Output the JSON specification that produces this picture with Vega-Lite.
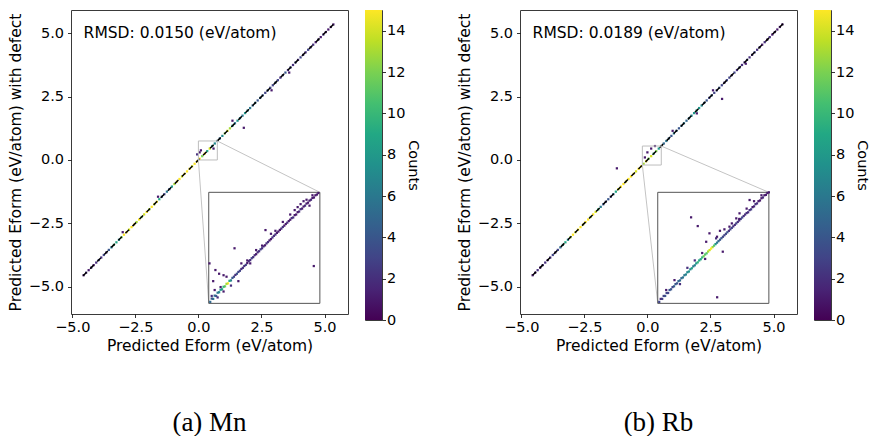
{
"$schema": "https://vega.github.io/schema/vega-lite/v6.json",
"padding": {"left": 7, "top": 9, "right": 0, "bottom": 0},
"config": {
  "font": "DejaVu Sans",
  "view": {"stroke": "#3a3a3a", "strokeWidth": 1},
  "axis": {"grid": false, "domain": false, "tickColor": "#000", "tickSize": 3.5, "tickWidth": 0.8, "labelColor": "#000", "labelFontSize": 14.5, "labelFont": "DejaVu Sans", "titleFont": "DejaVu Sans", "titleFontSize": 15.5, "titleFontWeight": "normal", "titleColor": "#000", "labelFlush": false, "labelOverlap": false}
},
"datasets": {
  "ma": [
{"x":-4.55,"y":-4.55,"c":1},{"x":-4.45,"y":-4.45,"c":2},{"x":-4.35,"y":-4.35,"c":1},{"x":-4.25,"y":-4.25,"c":2},{"x":-4.15,"y":-4.15,"c":1},{"x":-4.05,"y":-4.05,"c":2},{"x":-3.95,"y":-3.95,"c":3},{"x":-3.85,"y":-3.85,"c":2},{"x":-3.75,"y":-3.75,"c":3},{"x":-3.65,"y":-3.65,"c":2},
{"x":-3.55,"y":-3.55,"c":4},{"x":-3.45,"y":-3.45,"c":6},{"x":-3.35,"y":-3.35,"c":10},{"x":-3.25,"y":-3.25,"c":9},{"x":-3.15,"y":-3.15,"c":7},{"x":-3.05,"y":-3.05,"c":12},{"x":-2.95,"y":-2.95,"c":15},{"x":-2.85,"y":-2.85,"c":15},{"x":-2.75,"y":-2.75,"c":14},{"x":-2.65,"y":-2.65,"c":15},
{"x":-2.55,"y":-2.55,"c":15},{"x":-2.45,"y":-2.45,"c":13},{"x":-2.35,"y":-2.35,"c":15},{"x":-2.25,"y":-2.25,"c":12},{"x":-2.15,"y":-2.15,"c":14},{"x":-2.05,"y":-2.05,"c":15},{"x":-1.95,"y":-1.95,"c":13},{"x":-1.85,"y":-1.85,"c":15},{"x":-1.75,"y":-1.75,"c":14},{"x":-1.65,"y":-1.65,"c":15},
{"x":-1.55,"y":-1.55,"c":9},{"x":-1.45,"y":-1.45,"c":4},{"x":-1.35,"y":-1.35,"c":3},{"x":-1.25,"y":-1.25,"c":6},{"x":-1.15,"y":-1.15,"c":4},{"x":-1.05,"y":-1.05,"c":8},{"x":-0.95,"y":-0.95,"c":13},{"x":-0.85,"y":-0.85,"c":15},{"x":-0.75,"y":-0.75,"c":15},{"x":-0.65,"y":-0.65,"c":14},
{"x":-0.55,"y":-0.55,"c":15},{"x":-0.45,"y":-0.45,"c":15},{"x":-0.35,"y":-0.35,"c":15},{"x":-0.25,"y":-0.25,"c":14},{"x":-0.15,"y":-0.15,"c":15},{"x":-0.05,"y":-0.05,"c":15},{"x":0.05,"y":0.05,"c":15},{"x":0.15,"y":0.15,"c":12},{"x":0.25,"y":0.25,"c":15},{"x":0.35,"y":0.35,"c":9},
{"x":0.45,"y":0.45,"c":14},{"x":0.55,"y":0.55,"c":8},{"x":0.65,"y":0.65,"c":7},{"x":0.75,"y":0.75,"c":6},{"x":0.85,"y":0.85,"c":5},{"x":0.95,"y":0.95,"c":7},{"x":1.05,"y":1.05,"c":12},{"x":1.15,"y":1.15,"c":14},{"x":1.25,"y":1.25,"c":13},{"x":1.35,"y":1.35,"c":9},
{"x":1.45,"y":1.45,"c":6},{"x":1.55,"y":1.55,"c":8},{"x":1.65,"y":1.65,"c":7},{"x":1.75,"y":1.75,"c":6},{"x":1.85,"y":1.85,"c":8},{"x":1.95,"y":1.95,"c":7},{"x":2.05,"y":2.05,"c":6},{"x":2.15,"y":2.15,"c":5},{"x":2.25,"y":2.25,"c":6},{"x":2.35,"y":2.35,"c":4},
{"x":2.45,"y":2.45,"c":5},{"x":2.55,"y":2.55,"c":4},{"x":2.65,"y":2.65,"c":3},{"x":2.75,"y":2.75,"c":4},{"x":2.85,"y":2.85,"c":3},{"x":2.95,"y":2.95,"c":3},{"x":3.05,"y":3.05,"c":4},{"x":3.15,"y":3.15,"c":3},{"x":3.25,"y":3.25,"c":2},{"x":3.35,"y":3.35,"c":3},
{"x":3.45,"y":3.45,"c":4},{"x":3.55,"y":3.55,"c":2},{"x":3.65,"y":3.65,"c":3},{"x":3.75,"y":3.75,"c":2},{"x":3.85,"y":3.85,"c":3},{"x":3.95,"y":3.95,"c":2},{"x":4.05,"y":4.05,"c":3},{"x":4.15,"y":4.15,"c":2},{"x":4.25,"y":4.25,"c":2},{"x":4.35,"y":4.35,"c":3},
{"x":4.45,"y":4.45,"c":2},{"x":4.55,"y":4.55,"c":2},{"x":4.65,"y":4.65,"c":1},{"x":4.75,"y":4.75,"c":2},{"x":4.85,"y":4.85,"c":1},{"x":4.95,"y":4.95,"c":2},{"x":5.05,"y":5.05,"c":1},{"x":5.15,"y":5.15,"c":1},{"x":5.25,"y":5.25,"c":1},{"x":5.35,"y":5.35,"c":1},
{"x":0.05,"y":0.3,"c":1},{"x":0.1,"y":0.38,"c":1},{"x":-0.05,"y":0.22,"c":2},{"x":1.8,"y":1.27,"c":1},{"x":1.35,"y":1.55,"c":1},{"x":-1.6,"y":-1.45,"c":1},{"x":2.9,"y":2.75,"c":1},{"x":3.6,"y":3.45,"c":1},{"x":0.6,"y":0.45,"c":1},{"x":-3.0,"y":-2.85,"c":1}
  ],
  "mb": [
{"x":-4.55,"y":-4.55,"c":1},{"x":-4.45,"y":-4.45,"c":1},{"x":-4.35,"y":-4.35,"c":2},{"x":-4.25,"y":-4.25,"c":1},{"x":-4.15,"y":-4.15,"c":2},{"x":-4.05,"y":-4.05,"c":2},{"x":-3.95,"y":-3.95,"c":1},{"x":-3.85,"y":-3.85,"c":2},{"x":-3.75,"y":-3.75,"c":3},{"x":-3.65,"y":-3.65,"c":2},
{"x":-3.55,"y":-3.55,"c":3},{"x":-3.45,"y":-3.45,"c":5},{"x":-3.35,"y":-3.35,"c":8},{"x":-3.25,"y":-3.25,"c":9},{"x":-3.15,"y":-3.15,"c":7},{"x":-3.05,"y":-3.05,"c":13},{"x":-2.95,"y":-2.95,"c":15},{"x":-2.85,"y":-2.85,"c":14},{"x":-2.75,"y":-2.75,"c":15},{"x":-2.65,"y":-2.65,"c":15},
{"x":-2.55,"y":-2.55,"c":14},{"x":-2.45,"y":-2.45,"c":15},{"x":-2.35,"y":-2.35,"c":15},{"x":-2.25,"y":-2.25,"c":13},{"x":-2.15,"y":-2.15,"c":15},{"x":-2.05,"y":-2.05,"c":14},{"x":-1.95,"y":-1.95,"c":10},{"x":-1.85,"y":-1.85,"c":6},{"x":-1.75,"y":-1.75,"c":4},{"x":-1.65,"y":-1.65,"c":3},
{"x":-1.55,"y":-1.55,"c":4},{"x":-1.45,"y":-1.45,"c":3},{"x":-1.35,"y":-1.35,"c":5},{"x":-1.25,"y":-1.25,"c":9},{"x":-1.15,"y":-1.15,"c":14},{"x":-1.05,"y":-1.05,"c":15},{"x":-0.95,"y":-0.95,"c":15},{"x":-0.85,"y":-0.85,"c":14},{"x":-0.75,"y":-0.75,"c":15},{"x":-0.65,"y":-0.65,"c":15},
{"x":-0.55,"y":-0.55,"c":15},{"x":-0.45,"y":-0.45,"c":14},{"x":-0.35,"y":-0.35,"c":15},{"x":-0.25,"y":-0.25,"c":15},{"x":-0.15,"y":-0.15,"c":13},{"x":-0.05,"y":-0.05,"c":15},{"x":0.05,"y":0.05,"c":12},{"x":0.15,"y":0.15,"c":14},{"x":0.25,"y":0.25,"c":10},{"x":0.35,"y":0.35,"c":12},
{"x":0.45,"y":0.45,"c":8},{"x":0.55,"y":0.55,"c":6},{"x":0.65,"y":0.65,"c":5},{"x":0.75,"y":0.75,"c":6},{"x":0.85,"y":0.85,"c":5},{"x":0.95,"y":0.95,"c":4},{"x":1.05,"y":1.05,"c":6},{"x":1.15,"y":1.15,"c":5},{"x":1.25,"y":1.25,"c":4},{"x":1.35,"y":1.35,"c":5},
{"x":1.45,"y":1.45,"c":6},{"x":1.55,"y":1.55,"c":5},{"x":1.65,"y":1.65,"c":6},{"x":1.75,"y":1.75,"c":7},{"x":1.85,"y":1.85,"c":8},{"x":1.95,"y":1.95,"c":9},{"x":2.05,"y":2.05,"c":8},{"x":2.15,"y":2.15,"c":7},{"x":2.25,"y":2.25,"c":5},{"x":2.35,"y":2.35,"c":4},
{"x":2.45,"y":2.45,"c":3},{"x":2.55,"y":2.55,"c":4},{"x":2.65,"y":2.65,"c":3},{"x":2.75,"y":2.75,"c":3},{"x":2.85,"y":2.85,"c":4},{"x":2.95,"y":2.95,"c":3},{"x":3.05,"y":3.05,"c":2},{"x":3.15,"y":3.15,"c":3},{"x":3.25,"y":3.25,"c":3},{"x":3.35,"y":3.35,"c":2},
{"x":3.45,"y":3.45,"c":3},{"x":3.55,"y":3.55,"c":2},{"x":3.65,"y":3.65,"c":3},{"x":3.75,"y":3.75,"c":2},{"x":3.85,"y":3.85,"c":2},{"x":3.95,"y":3.95,"c":3},{"x":4.05,"y":4.05,"c":2},{"x":4.15,"y":4.15,"c":2},{"x":4.25,"y":4.25,"c":3},{"x":4.35,"y":4.35,"c":2},
{"x":4.45,"y":4.45,"c":2},{"x":4.55,"y":4.55,"c":1},{"x":4.65,"y":4.65,"c":2},{"x":4.75,"y":4.75,"c":1},{"x":4.85,"y":4.85,"c":2},{"x":4.95,"y":4.95,"c":1},{"x":5.05,"y":5.05,"c":1},{"x":5.15,"y":5.15,"c":1},{"x":5.25,"y":5.25,"c":1},{"x":5.35,"y":5.35,"c":1},
{"x":-1.21,"y":-0.33,"c":1},{"x":2.96,"y":2.41,"c":1},{"x":1.96,"y":1.84,"c":1},{"x":0.0,"y":0.3,"c":1},{"x":0.15,"y":0.45,"c":1},{"x":-0.1,"y":0.1,"c":1},{"x":0.3,"y":0.55,"c":1},{"x":2.6,"y":2.75,"c":1},{"x":1.0,"y":1.15,"c":1},{"x":3.9,"y":3.8,"c":1}
  ],
  "ia": [
{"u":0.01,"v":0.01,"c":5},{"u":0.03,"v":0.03,"c":6},{"u":0.05,"v":0.05,"c":4},{"u":0.07,"v":0.075,"c":7},{"u":0.09,"v":0.095,"c":9},{"u":0.11,"v":0.115,"c":12},{"u":0.13,"v":0.135,"c":15},{"u":0.15,"v":0.155,"c":6},{"u":0.17,"v":0.18,"c":3},{"u":0.19,"v":0.2,"c":4},
{"u":0.21,"v":0.22,"c":3},{"u":0.23,"v":0.24,"c":2},{"u":0.25,"v":0.26,"c":3},{"u":0.27,"v":0.285,"c":2},{"u":0.29,"v":0.305,"c":3},{"u":0.31,"v":0.325,"c":2},{"u":0.33,"v":0.345,"c":2},{"u":0.35,"v":0.365,"c":3},{"u":0.37,"v":0.385,"c":2},{"u":0.39,"v":0.405,"c":2},
{"u":0.41,"v":0.425,"c":1},{"u":0.43,"v":0.445,"c":2},{"u":0.45,"v":0.465,"c":2},{"u":0.47,"v":0.485,"c":1},{"u":0.49,"v":0.505,"c":2},{"u":0.51,"v":0.525,"c":1},{"u":0.53,"v":0.545,"c":2},{"u":0.55,"v":0.565,"c":1},{"u":0.57,"v":0.58,"c":2},{"u":0.59,"v":0.6,"c":1},
{"u":0.61,"v":0.62,"c":2},{"u":0.63,"v":0.64,"c":1},{"u":0.65,"v":0.66,"c":2},{"u":0.67,"v":0.68,"c":1},{"u":0.69,"v":0.7,"c":2},{"u":0.71,"v":0.715,"c":1},{"u":0.73,"v":0.735,"c":1},
{"u":0.02,"v":0.032,"c":4},{"u":0.04,"v":0.052,"c":5},{"u":0.06,"v":0.072,"c":6},{"u":0.08,"v":0.092,"c":8},{"u":0.1,"v":0.112,"c":10},{"u":0.12,"v":0.132,"c":13},{"u":0.14,"v":0.152,"c":9},{"u":0.16,"v":0.172,"c":4},{"u":0.18,"v":0.192,"c":2},{"u":0.2,"v":0.212,"c":3},
{"u":0.22,"v":0.232,"c":2},{"u":0.24,"v":0.252,"c":2},{"u":0.26,"v":0.272,"c":1},{"u":0.28,"v":0.292,"c":2},{"u":0.3,"v":0.312,"c":2},{"u":0.32,"v":0.332,"c":1},{"u":0.34,"v":0.352,"c":2},{"u":0.36,"v":0.372,"c":2},{"u":0.38,"v":0.392,"c":1},{"u":0.4,"v":0.414,"c":2},
{"u":0.42,"v":0.434,"c":1},{"u":0.44,"v":0.456,"c":2},{"u":0.46,"v":0.476,"c":1},{"u":0.48,"v":0.496,"c":1},{"u":0.5,"v":0.516,"c":2},{"u":0.52,"v":0.536,"c":1},{"u":0.54,"v":0.556,"c":1},{"u":0.56,"v":0.576,"c":2},{"u":0.58,"v":0.596,"c":1},{"u":0.6,"v":0.616,"c":1},
{"u":0.62,"v":0.636,"c":2},{"u":0.64,"v":0.654,"c":1},{"u":0.66,"v":0.674,"c":1},{"u":0.68,"v":0.694,"c":1},{"u":0.7,"v":0.712,"c":1},{"u":0.72,"v":0.73,"c":1},{"u":0.74,"v":0.745,"c":1},
{"u":0.02,"v":0.05,"c":2},{"u":0.04,"v":0.09,"c":1},{"u":0.06,"v":0.04,"c":2},{"u":0.08,"v":0.11,"c":1},{"u":0.1,"v":0.08,"c":1},{"u":0.045,"v":0.225,"c":1},{"u":0.005,"v":0.27,"c":1},{"u":0.03,"v":0.15,"c":1},{"u":0.07,"v":0.2,"c":1},{"u":0.12,"v":0.18,"c":1},
{"u":0.174,"v":0.372,"c":1},{"u":0.383,"v":0.495,"c":1},{"u":0.709,"v":0.252,"c":1},{"u":0.2,"v":0.15,"c":1},{"u":0.15,"v":0.12,"c":2},{"u":0.26,"v":0.29,"c":1},{"u":0.32,"v":0.36,"c":1},{"u":0.45,"v":0.49,"c":1},{"u":0.5,"v":0.55,"c":1},{"u":0.55,"v":0.6,"c":1},
{"u":0.58,"v":0.63,"c":1},{"u":0.62,"v":0.67,"c":1},{"u":0.66,"v":0.7,"c":1},{"u":0.7,"v":0.73,"c":1},{"u":0.64,"v":0.69,"c":1},{"u":0.42,"v":0.47,"c":1},{"u":0.36,"v":0.39,"c":1},{"u":0.28,"v":0.27,"c":1},{"u":0.6,"v":0.65,"c":1},{"u":0.68,"v":0.66,"c":1},
{"u":0.1,"v":0.19,"c":1},{"u":0.22,"v":0.27,"c":1}
  ],
  "ib": [
{"u":-0.19,"v":-0.19,"c":3},{"u":-0.17,"v":-0.17,"c":3},{"u":-0.15,"v":-0.15,"c":4},{"u":-0.13,"v":-0.13,"c":3},{"u":-0.11,"v":-0.105,"c":4},{"u":-0.09,"v":-0.085,"c":5},{"u":-0.07,"v":-0.065,"c":4},{"u":-0.05,"v":-0.045,"c":5},{"u":-0.03,"v":-0.025,"c":6},{"u":-0.01,"v":-0.005,"c":7},
{"u":0.01,"v":0.015,"c":8},{"u":0.03,"v":0.037,"c":9},{"u":0.05,"v":0.057,"c":7},{"u":0.07,"v":0.077,"c":10},{"u":0.09,"v":0.098,"c":9},{"u":0.11,"v":0.118,"c":12},{"u":0.13,"v":0.138,"c":11},{"u":0.15,"v":0.16,"c":14},{"u":0.17,"v":0.18,"c":13},{"u":0.19,"v":0.2,"c":8},
{"u":0.21,"v":0.22,"c":5},{"u":0.23,"v":0.24,"c":4},{"u":0.25,"v":0.26,"c":3},{"u":0.27,"v":0.28,"c":4},{"u":0.29,"v":0.3,"c":3},{"u":0.31,"v":0.32,"c":2},{"u":0.33,"v":0.34,"c":3},{"u":0.35,"v":0.36,"c":2},{"u":0.37,"v":0.38,"c":3},{"u":0.39,"v":0.4,"c":2},
{"u":0.41,"v":0.415,"c":2},{"u":0.43,"v":0.435,"c":3},{"u":0.45,"v":0.455,"c":2},{"u":0.47,"v":0.475,"c":2},{"u":0.49,"v":0.495,"c":1},{"u":0.51,"v":0.515,"c":2},{"u":0.53,"v":0.533,"c":1},{"u":0.55,"v":0.55,"c":1},
{"u":-0.18,"v":-0.17,"c":2},{"u":-0.16,"v":-0.15,"c":3},{"u":-0.14,"v":-0.13,"c":3},{"u":-0.12,"v":-0.11,"c":4},{"u":-0.1,"v":-0.09,"c":3},{"u":-0.08,"v":-0.07,"c":4},{"u":-0.06,"v":-0.05,"c":5},{"u":-0.04,"v":-0.03,"c":5},{"u":-0.02,"v":-0.01,"c":6},{"u":0.0,"v":0.01,"c":7},
{"u":0.02,"v":0.03,"c":7},{"u":0.04,"v":0.05,"c":6},{"u":0.06,"v":0.07,"c":8},{"u":0.08,"v":0.09,"c":9},{"u":0.1,"v":0.11,"c":10},{"u":0.12,"v":0.13,"c":11},{"u":0.14,"v":0.15,"c":13},{"u":0.16,"v":0.17,"c":15},{"u":0.18,"v":0.19,"c":11},{"u":0.2,"v":0.21,"c":6},
{"u":0.22,"v":0.23,"c":4},{"u":0.24,"v":0.25,"c":3},{"u":0.26,"v":0.27,"c":3},{"u":0.28,"v":0.29,"c":2},{"u":0.3,"v":0.31,"c":3},{"u":0.32,"v":0.33,"c":2},{"u":0.34,"v":0.35,"c":2},{"u":0.36,"v":0.37,"c":3},{"u":0.38,"v":0.39,"c":2},{"u":0.4,"v":0.41,"c":2},
{"u":0.42,"v":0.43,"c":2},{"u":0.44,"v":0.45,"c":1},{"u":0.46,"v":0.47,"c":2},{"u":0.48,"v":0.49,"c":1},{"u":0.5,"v":0.51,"c":1},{"u":0.52,"v":0.53,"c":1},{"u":0.54,"v":0.545,"c":1},
{"u":0.025,"v":0.381,"c":1},{"u":0.07,"v":0.322,"c":1},{"u":0.149,"v":0.273,"c":1},{"u":0.194,"v":0.239,"c":2},{"u":0.352,"v":0.408,"c":1},{"u":0.42,"v":0.498,"c":1},{"u":0.201,"v":-0.159,"c":1},{"u":-0.087,"v":-0.043,"c":1},{"u":-0.143,"v":-0.11,"c":1},{"u":0.239,"v":0.149,"c":1},
{"u":0.33,"v":0.374,"c":1},{"u":0.284,"v":0.318,"c":1},{"u":0.127,"v":0.216,"c":1},{"u":0.0,"v":0.04,"c":2},{"u":0.05,"v":0.09,"c":2},{"u":0.1,"v":0.14,"c":1},{"u":0.2,"v":0.25,"c":1},{"u":0.25,"v":0.3,"c":1},{"u":0.3,"v":0.34,"c":1},{"u":0.4,"v":0.44,"c":1},
{"u":0.45,"v":0.49,"c":1},{"u":0.5,"v":0.53,"c":1},{"u":0.12,"v":0.1,"c":1},{"u":-0.05,"v":-0.07,"c":2},{"u":0.35,"v":0.37,"c":1},{"u":0.22,"v":0.29,"c":1}
  ]
},
"spacing": 35,
"hconcat": [
{"spacing": 15, "hconcat": [
 {"width": 277, "height": 304,
  "title": {"text": "(a) Mn", "orient": "bottom", "offset": 56, "font": "Liberation Serif", "fontSize": 27, "fontWeight": "normal", "color": "#000", "anchor": "middle"},
  "resolve": {"scale": {"x": "independent", "y": "independent"}},
  "layer": [
   {"layer": [
     {"data": {"name": "ma"}, "mark": {"type": "square", "size": 5, "opacity": 1},
      "encoding": {
        "x": {"field": "x", "type": "quantitative", "scale": {"domain": [-5.05, 5.93], "nice": false, "zero": false}, "axis": {"values": [-5, -2.5, 0, 2.5, 5], "format": ".1f", "title": "Predicted Eform (eV/atom)", "labelPadding": 3, "titlePadding": 4}},
        "y": {"field": "y", "type": "quantitative", "scale": {"domain": [-6.08, 5.92], "nice": false, "zero": false}, "axis": {"values": [-5, -2.5, 0, 2.5, 5], "format": ".1f", "title": "Predicted Eform (eV/atom) with defect", "labelPadding": 4, "titlePadding": 5}},
        "color": {"field": "c", "type": "quantitative", "scale": {"scheme": "viridis", "domain": [0, 15]}, "legend": null}}},
     {"data": {"values": [{"x": -4.57, "y": -4.57, "x2": 5.35, "y2": 5.35}]}, "mark": {"type": "rule", "color": "#000", "strokeWidth": 1.5, "strokeDash": [5, 5]},
      "encoding": {"x": {"field": "x", "type": "quantitative", "scale": {"domain": [-5.05, 5.93], "nice": false, "zero": false}}, "y": {"field": "y", "type": "quantitative", "scale": {"domain": [-6.08, 5.92], "nice": false, "zero": false}}, "x2": {"field": "x2"}, "y2": {"field": "y2"}}},
     {"data": {"values": [{"x": 0, "y": 0, "x2": 0.75, "y2": 0.75}]}, "mark": {"type": "rect", "filled": false, "color": "#bdbdbd", "strokeWidth": 1},
      "encoding": {"x": {"field": "x", "type": "quantitative", "scale": {"domain": [-5.05, 5.93], "nice": false, "zero": false}}, "y": {"field": "y", "type": "quantitative", "scale": {"domain": [-6.08, 5.92], "nice": false, "zero": false}}, "x2": {"field": "x2"}, "y2": {"field": "y2"}}},
     {"data": {"values": [{"x": 0.75, "y": 0.75, "x2": 4.815, "y2": -1.277}, {"x": 0, "y": 0, "x2": 0.41, "y2": -5.66}]}, "mark": {"type": "rule", "color": "#c4c4c4", "strokeWidth": 1},
      "encoding": {"x": {"field": "x", "type": "quantitative", "scale": {"domain": [-5.05, 5.93], "nice": false, "zero": false}}, "y": {"field": "y", "type": "quantitative", "scale": {"domain": [-6.08, 5.92], "nice": false, "zero": false}}, "x2": {"field": "x2"}, "y2": {"field": "y2"}}},
     {"data": {"values": [{"x": 0.41, "y": -5.66, "x2": 4.815, "y2": -1.277}]}, "mark": {"type": "rect", "fill": "#fff", "stroke": "#555", "strokeWidth": 1},
      "encoding": {"x": {"field": "x", "type": "quantitative", "scale": {"domain": [-5.05, 5.93], "nice": false, "zero": false}}, "y": {"field": "y", "type": "quantitative", "scale": {"domain": [-6.08, 5.92], "nice": false, "zero": false}}, "x2": {"field": "x2"}, "y2": {"field": "y2"}}},
     {"data": {"values": [{"x": -4.55, "y": 5.0, "t": "RMSD: 0.0150 (eV/atom)"}]}, "mark": {"type": "text", "align": "left", "baseline": "middle", "fontSize": 15.5, "font": "DejaVu Sans", "color": "#000"},
      "encoding": {"x": {"field": "x", "type": "quantitative", "scale": {"domain": [-5.05, 5.93], "nice": false, "zero": false}}, "y": {"field": "y", "type": "quantitative", "scale": {"domain": [-6.08, 5.92], "nice": false, "zero": false}}, "text": {"field": "t"}}}
   ]},
   {"data": {"name": "ia"}, "mark": {"type": "square", "size": 5, "opacity": 1},
    "encoding": {
      "x": {"field": "u", "type": "quantitative", "scale": {"domain": [-0.9297, 0.9399], "nice": false, "zero": false}, "axis": null},
      "y": {"field": "v", "type": "quantitative", "scale": {"domain": [-0.0719, 1.9815], "nice": false, "zero": false}, "axis": null},
      "color": {"field": "c", "type": "quantitative", "scale": {"scheme": "viridis", "domain": [0, 15]}, "legend": null}}}
  ]
 },
 {"width": 17, "height": 310,
  "data": {"values": [{"lo": 0, "hi": 15}]},
  "mark": {"type": "rect", "fill": {"gradient": "linear", "x1": 0, "y1": 1, "x2": 0, "y2": 0, "stops": [{"offset": 0, "color": "#440154"}, {"offset": 0.1, "color": "#482475"}, {"offset": 0.2, "color": "#414487"}, {"offset": 0.3, "color": "#355f8d"}, {"offset": 0.4, "color": "#2a788e"}, {"offset": 0.5, "color": "#21918c"}, {"offset": 0.6, "color": "#22a884"}, {"offset": 0.7, "color": "#44bf70"}, {"offset": 0.8, "color": "#7ad151"}, {"offset": 0.9, "color": "#bddf26"}, {"offset": 1, "color": "#fde725"}]}},
  "encoding": {
    "y": {"field": "lo", "type": "quantitative", "scale": {"domain": [0, 15], "nice": false, "zero": false}, "axis": {"orient": "right", "values": [0, 2, 4, 6, 8, 10, 12, 14], "format": "d", "title": "Counts", "titleAngle": 90, "titleFontSize": 14.5, "labelPadding": 1, "titlePadding": 0.5}},
    "y2": {"field": "hi"}}
 }
]},
{"spacing": 15, "hconcat": [
 {"width": 277, "height": 304,
  "title": {"text": "(b) Rb", "orient": "bottom", "offset": 56, "font": "Liberation Serif", "fontSize": 27, "fontWeight": "normal", "color": "#000", "anchor": "middle"},
  "resolve": {"scale": {"x": "independent", "y": "independent"}},
  "layer": [
   {"layer": [
     {"data": {"name": "mb"}, "mark": {"type": "square", "size": 5, "opacity": 1},
      "encoding": {
        "x": {"field": "x", "type": "quantitative", "scale": {"domain": [-5.05, 5.93], "nice": false, "zero": false}, "axis": {"values": [-5, -2.5, 0, 2.5, 5], "format": ".1f", "title": "Predicted Eform (eV/atom)", "labelPadding": 3, "titlePadding": 4}},
        "y": {"field": "y", "type": "quantitative", "scale": {"domain": [-6.08, 5.92], "nice": false, "zero": false}, "axis": {"values": [-5, -2.5, 0, 2.5, 5], "format": ".1f", "title": "Predicted Eform (eV/atom) with defect", "labelPadding": 4, "titlePadding": 5}},
        "color": {"field": "c", "type": "quantitative", "scale": {"scheme": "viridis", "domain": [0, 15]}, "legend": null}}},
     {"data": {"values": [{"x": -4.55, "y": -4.55, "x2": 5.38, "y2": 5.38}]}, "mark": {"type": "rule", "color": "#000", "strokeWidth": 1.5, "strokeDash": [5, 5]},
      "encoding": {"x": {"field": "x", "type": "quantitative", "scale": {"domain": [-5.05, 5.93], "nice": false, "zero": false}}, "y": {"field": "y", "type": "quantitative", "scale": {"domain": [-6.08, 5.92], "nice": false, "zero": false}}, "x2": {"field": "x2"}, "y2": {"field": "y2"}}},
     {"data": {"values": [{"x": -0.2, "y": -0.2, "x2": 0.55, "y2": 0.55}]}, "mark": {"type": "rect", "filled": false, "color": "#bdbdbd", "strokeWidth": 1},
      "encoding": {"x": {"field": "x", "type": "quantitative", "scale": {"domain": [-5.05, 5.93], "nice": false, "zero": false}}, "y": {"field": "y", "type": "quantitative", "scale": {"domain": [-6.08, 5.92], "nice": false, "zero": false}}, "x2": {"field": "x2"}, "y2": {"field": "y2"}}},
     {"data": {"values": [{"x": 0.55, "y": 0.55, "x2": 4.815, "y2": -1.277}, {"x": -0.2, "y": -0.2, "x2": 0.41, "y2": -5.66}]}, "mark": {"type": "rule", "color": "#c4c4c4", "strokeWidth": 1},
      "encoding": {"x": {"field": "x", "type": "quantitative", "scale": {"domain": [-5.05, 5.93], "nice": false, "zero": false}}, "y": {"field": "y", "type": "quantitative", "scale": {"domain": [-6.08, 5.92], "nice": false, "zero": false}}, "x2": {"field": "x2"}, "y2": {"field": "y2"}}},
     {"data": {"values": [{"x": 0.41, "y": -5.66, "x2": 4.815, "y2": -1.277}]}, "mark": {"type": "rect", "fill": "#fff", "stroke": "#555", "strokeWidth": 1},
      "encoding": {"x": {"field": "x", "type": "quantitative", "scale": {"domain": [-5.05, 5.93], "nice": false, "zero": false}}, "y": {"field": "y", "type": "quantitative", "scale": {"domain": [-6.08, 5.92], "nice": false, "zero": false}}, "x2": {"field": "x2"}, "y2": {"field": "y2"}}},
     {"data": {"values": [{"x": -4.55, "y": 5.0, "t": "RMSD: 0.0189 (eV/atom)"}]}, "mark": {"type": "text", "align": "left", "baseline": "middle", "fontSize": 15.5, "font": "DejaVu Sans", "color": "#000"},
      "encoding": {"x": {"field": "x", "type": "quantitative", "scale": {"domain": [-5.05, 5.93], "nice": false, "zero": false}}, "y": {"field": "y", "type": "quantitative", "scale": {"domain": [-6.08, 5.92], "nice": false, "zero": false}}, "text": {"field": "t"}}}
   ]},
   {"data": {"name": "ib"}, "mark": {"type": "square", "size": 5, "opacity": 1},
    "encoding": {
      "x": {"field": "u", "type": "quantitative", "scale": {"domain": [-1.1297, 0.7399], "nice": false, "zero": false}, "axis": null},
      "y": {"field": "v", "type": "quantitative", "scale": {"domain": [-0.2719, 1.7815], "nice": false, "zero": false}, "axis": null},
      "color": {"field": "c", "type": "quantitative", "scale": {"scheme": "viridis", "domain": [0, 15]}, "legend": null}}}
  ]
 },
 {"width": 17, "height": 310,
  "data": {"values": [{"lo": 0, "hi": 15}]},
  "mark": {"type": "rect", "fill": {"gradient": "linear", "x1": 0, "y1": 1, "x2": 0, "y2": 0, "stops": [{"offset": 0, "color": "#440154"}, {"offset": 0.1, "color": "#482475"}, {"offset": 0.2, "color": "#414487"}, {"offset": 0.3, "color": "#355f8d"}, {"offset": 0.4, "color": "#2a788e"}, {"offset": 0.5, "color": "#21918c"}, {"offset": 0.6, "color": "#22a884"}, {"offset": 0.7, "color": "#44bf70"}, {"offset": 0.8, "color": "#7ad151"}, {"offset": 0.9, "color": "#bddf26"}, {"offset": 1, "color": "#fde725"}]}},
  "encoding": {
    "y": {"field": "lo", "type": "quantitative", "scale": {"domain": [0, 15], "nice": false, "zero": false}, "axis": {"orient": "right", "values": [0, 2, 4, 6, 8, 10, 12, 14], "format": "d", "title": "Counts", "titleAngle": 90, "titleFontSize": 14.5, "labelPadding": 1, "titlePadding": 0.5}},
    "y2": {"field": "hi"}}
 }
]}
]
}
